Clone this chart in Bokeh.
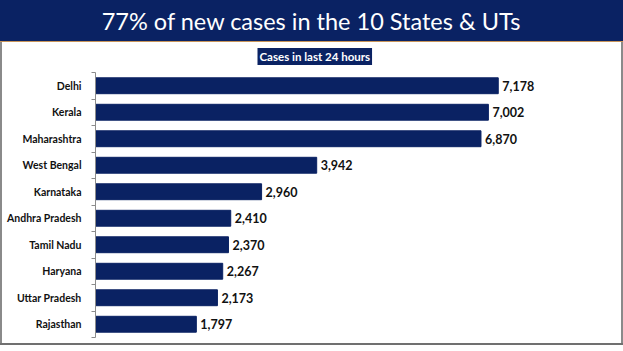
from bokeh.plotting import figure
from bokeh.layouts import column
from bokeh.models import Range1d, FixedTicker, Label, Title, ColumnDataSource
from bokeh.core.properties import value
from bokeh.embed import file_html
from bokeh.resources import INLINE

title_text = "77% of new cases in the 10 States & UTs"
subtitle_text = "Cases in last 24 hours"
states = ["Delhi", "Kerala", "Maharashtra", "West Bengal", "Karnataka",
          "Andhra Pradesh", "Tamil Nadu", "Haryana", "Uttar Pradesh", "Rajasthan"]
cases = [7178, 7002, 6870, 3942, 2960, 2410, 2370, 2267, 2173, 1797]

NAVY = "#0a2263"
ORANGE = "#c8955a"
FONT = "Lato"
ML, MR = 95, 23

# ---- banner ----
banner = figure(width=623, height=42, x_range=Range1d(0, 1), y_range=Range1d(0, 1),
                output_backend="svg", toolbar_location=None,
                min_border_left=ML, min_border_right=MR, min_border_top=0, min_border_bottom=1)
banner.background_fill_color = None
banner.border_fill_color = None
banner.outline_line_color = None
banner.axis.visible = False
banner.grid.visible = False
banner.styles = {"background-color": NAVY, "box-shadow": f"inset 0 -1px 0 {ORANGE}"}
banner.add_layout(Label(x=(311 - ML) / (623 - ML - MR), y=0.5, text=title_text,
                        text_align="center", text_baseline="middle", text_color="white",
                        text_font=FONT, text_font_size="23.5px"))

# ---- main chart ----
pos = [i + 0.5 for i in range(len(states))]
labels = [f"{v:,}" for v in cases]
src = ColumnDataSource(dict(y=pos, v=cases, lab=labels, name=states))

p = figure(width=623, height=309, x_range=Range1d(0, 9000),
           y_range=Range1d(len(states), 0),
           output_backend="svg", toolbar_location=None,
           min_border_left=ML, min_border_right=MR, min_border_top=29, min_border_bottom=14)
p.title = Title(text=subtitle_text, align="left", offset=162, standoff=11,
                vertical_align="top",
                text_color="white", text_font=FONT, text_font_style="bold",
                text_font_size="11.5px", background_fill_color=NAVY, padding=2)
p.background_fill_color = None
p.border_fill_color = None
p.outline_line_color = None
p.grid.visible = False
p.xaxis.visible = False
p.styles = {"background-color": "white",
            "box-shadow": ("inset 0 -6px 0 white, inset 0 -8px 0 #707070, "
                           "inset 2px 0 0 #8a8a8a, inset -2px 0 0 #8a8a8a")}

p.hbar(y="y", right="v", left=0, height=0.6, source=src, fill_color=NAVY, line_color=NAVY)
p.text(x="v", y="y", text="lab", source=src, x_offset=4, text_baseline="middle",
       text_align="left", text_font=value(FONT), text_font_style="bold",
       text_font_size="12.5px", text_color="#111111")

ya = p.yaxis[0]
ya.ticker = FixedTicker(ticks=pos, minor_ticks=list(range(len(states) + 1)))
ya.major_label_overrides = {y: s for y, s in zip(pos, states)}
ya.major_tick_out = 0
ya.major_tick_in = 0
ya.minor_tick_out = 4
ya.minor_tick_in = 0
ya.axis_line_color = "#8c8c8c"
ya.minor_tick_line_color = "#8c8c8c"
ya.major_label_standoff = 10
ya.major_label_text_font = FONT
ya.major_label_text_font_style = "bold"
ya.major_label_text_font_size = "10.5px"
ya.major_label_text_color = "#111111"

layout = column(banner, p, spacing=0)
open("out.html", "w").write(file_html(layout, INLINE))
